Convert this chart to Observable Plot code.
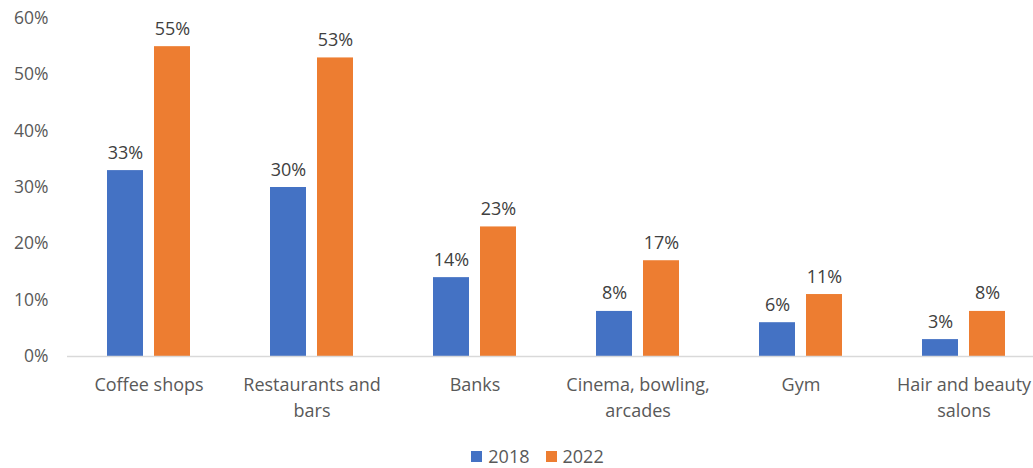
<!DOCTYPE html>
<html>
<head>
<meta charset="utf-8">
<script src="https://cdn.jsdelivr.net/npm/d3@7"></script>
<script src="https://cdn.jsdelivr.net/npm/@observablehq/plot@0.6"></script>
<style>
  html, body { margin: 0; padding: 0; background: #fff; }
  #chart { width: 1033px; height: 468px; position: relative; overflow: hidden; font-family: "Open Sans", sans-serif; }
  .legend { position: absolute; top: 446px; left: 0; width: 1033px; display: flex; justify-content: center; gap: 16px; font-size: 18px; line-height: 20px; color: #595959; padding-left: 42px; box-sizing: border-box; }
  .legend span.item { display: inline-flex; align-items: center; gap: 6px; }
  .legend i { display: inline-block; width: 11px; height: 11px; }
</style>
</head>
<body>
<div id="chart"></div>
<script>
const categories = ["Coffee shops", "Restaurants and bars", "Banks", "Cinema, bowling, arcades", "Gym", "Hair and beauty salons"];
const categoryLabels = ["Coffee shops", "Restaurants and\nbars", "Banks", "Cinema, bowling,\narcades", "Gym", "Hair and beauty\nsalons"];
const years = ["2018", "2022"];
const values2018 = [33, 30, 14, 8, 6, 3];
const values2022 = [55, 53, 23, 17, 11, 8];
const colors = ["#4472C4", "#ED7D31"];
const yTicks = [0, 10, 20, 30, 40, 50, 60];

const data = [];
categories.forEach((c, i) => {
  data.push({category: c, year: years[0], value: values2018[i]});
  data.push({category: c, year: years[1], value: values2022[i]});
});
const labelOf = new Map(categories.map((c, i) => [c, categoryLabels[i]]));

const chart = Plot.plot({
  width: 1033,
  height: 440,
  marginLeft: 67,
  marginRight: -12,
  marginTop: 18,
  marginBottom: 84,
  style: {fontFamily: "Open Sans, sans-serif", fontSize: "18px", color: "#595959", background: "white"},
  fx: {domain: categories, paddingInner: 0, paddingOuter: 0},
  x: {domain: years, paddingInner: 0.234, paddingOuter: 0.851, axis: null},
  y: {domain: [0, 60], axis: null},
  color: {domain: years, range: colors},
  marks: [
    Plot.axisY({ticks: yTicks, tickSize: 0, tickPadding: 19, tickFormat: d => d + "%", label: null, fill: "#595959", fontSize: 17.5}),
    Plot.axisFx({anchor: "bottom", tickSize: 0, tickPadding: 17, label: null, tickFormat: d => labelOf.get(d), lineHeight: 1.4, fill: "#595959", fontSize: 18}),
    Plot.barY(data, {fx: "category", x: "year", y: "value", fill: "year"}),
    Plot.ruleY([0], {stroke: "#d9d9d9", strokeWidth: 1.5}),
    Plot.text(data, {fx: "category", x: "year", y: "value", text: d => d.value + "%", lineAnchor: "bottom", dy: -12, fill: "#404040", fontSize: 18})
  ]
});
const container = document.getElementById("chart");
container.appendChild(chart);

const legend = document.createElement("div");
legend.className = "legend";
years.forEach((y, i) => {
  const item = document.createElement("span");
  item.className = "item";
  const sw = document.createElement("i");
  sw.style.background = colors[i];
  item.appendChild(sw);
  item.appendChild(document.createTextNode(y));
  legend.appendChild(item);
});
container.appendChild(legend);
</script>
</body>
</html>
